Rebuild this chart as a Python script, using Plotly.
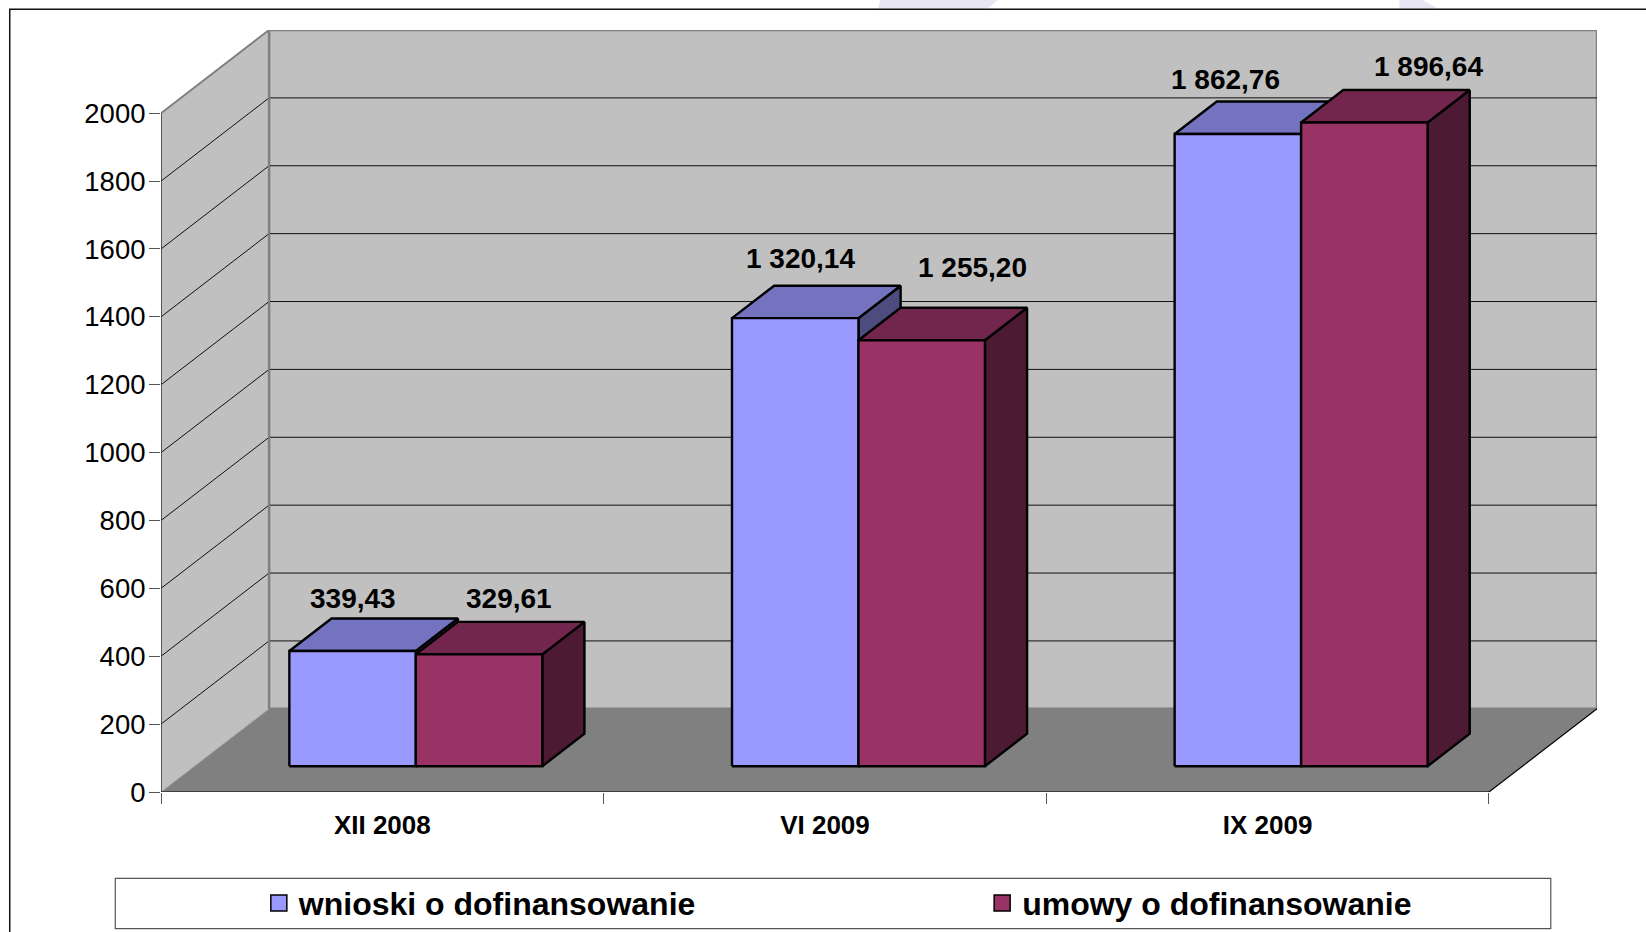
import plotly.graph_objects as go

categories = ["XII 2008", "VI 2009", "IX 2009"]
series_names = ["wnioski o dofinansowanie", "umowy o dofinansowanie"]
wnioski = [339.43, 1320.14, 1862.76]
umowy = [329.61, 1255.20, 1896.64]
y_ticks = [0, 200, 400, 600, 800, 1000, 1200, 1400, 1600, 1800, 2000]

W, H = 1646, 932
L, R, T, B = 161.2, 1596.6, 30.2, 792.3
CAT_PX = (1488.2 - L) / 3
Y_PX = 678 / 2000
DX = 108 / CAT_PX          # depth offset in x-axis units
DY = 83.1 / Y_PX           # depth offset in y-axis units
BAR_W = 1 / 3.5
Z0, Z1 = 0.31, 0.7
FONT = "Liberation Sans, Arial, sans-serif"
FACE = [("#9999FF", "#7373BF", "#4C4C7F"), ("#993366", "#73264D", "#4D1A33")]
# (xshift, yshift) of each value label from its bar's top-front centre, per series
LABEL_SHIFT = [[(0, 53), (5, 60), (-12, 54)], [(30, 56), (51, 73), (64, 56)]]


def P(x, y, z):
    return x + z * DX, y + z * DY


def poly(points, fill=None, color=None, width=1.0, **kw):
    xy = [P(*p) for p in points]
    return go.Scatter(
        x=[a for a, _ in xy], y=[b for _, b in xy], mode="lines",
        fill="toself" if fill else None, fillcolor=fill,
        line=dict(color=color or "rgba(0,0,0,0)", width=width),
        showlegend=False, hoverinfo="skip", **kw)


def pfx(v):
    return (v - L) / (R - L)


def pfy(v):
    return (B - v) / (B - T)


n = len(categories)
top = y_ticks[-1]
fig = go.Figure()

# walls and floor
fig.add_trace(poly([(0, 0, 0), (0, top, 0), (0, top, 1), (0, 0, 1)], "#C0C0C0"))
fig.add_trace(poly([(0, 0, 1), (n, 0, 1), (n, top, 1), (0, top, 1), (0, 0, 1)], "#C0C0C0", "#808080", 2.5))
fig.add_trace(poly([(0, 0, 0), (n, 0, 0), (n, 0, 1), (0, 0, 1)], "#808080"))

# gridlines
for t in y_ticks[1:-1]:
    fig.add_trace(poly([(0, t, 0), (0, t, 1), (n, t, 1)], None, "#111111", 1))

# wall edges
fig.add_trace(poly([(0, top, 0), (0, top, 1), (0, 0, 1)], None, "#808080", 2))
fig.add_trace(poly([(0, 0, 0), (0, 0, 1)], None, "#A0A0A0", 1))
fig.add_trace(poly([(0, 0, 0), (0, top, 0)], None, "#333333", 1.5))
fig.add_trace(poly([(0, 0, 0), (n, 0, 0), (n, 0, 1)], None, "#000000", 1.2))

# bars
annotations = []
for i in range(n):
    for s, vals in enumerate([wnioski, umowy]):
        v = vals[i]
        x0 = i + 0.75 * BAR_W + s * BAR_W
        x1 = x0 + BAR_W
        front, topc, side = FACE[s]
        fig.add_trace(poly([(x1, 0, Z0), (x1, 0, Z1), (x1, v, Z1), (x1, v, Z0), (x1, 0, Z0)], side, "#000000", 2.4))
        fig.add_trace(poly([(x0, v, Z0), (x0, v, Z1), (x1, v, Z1), (x1, v, Z0), (x0, v, Z0)], topc, "#000000", 2.4))
        fig.add_trace(poly([(x0, 0, Z0), (x1, 0, Z0), (x1, v, Z0), (x0, v, Z0), (x0, 0, Z0)], front, "#000000", 2.4))
        ax, ay = P((x0 + x1) / 2, v, Z0)
        whole = int(v)
        txt = f"{whole:,}".replace(",", " ") + f",{round((v - whole) * 100):02d}"
        annotations.append(dict(x=ax, y=ay, xref="x", yref="y", text=txt, showarrow=False,
                                xanchor="center", yanchor="middle",
                                xshift=LABEL_SHIFT[s][i][0], yshift=LABEL_SHIFT[s][i][1],
                                font=dict(family=FONT, size=28, color="#000000", weight="bold")))

# legend entries, one legend each so they can sit apart inside the shared box
for s, name in enumerate(series_names):
    fig.add_trace(go.Scatter(x=[None], y=[None], mode="markers", name=name,
                             legend="legend" if s == 0 else "legend2",
                             marker=dict(symbol="square", size=18, color=FACE[s][0],
                                         line=dict(color="#000000", width=1.5))))

shapes = [
    # faint background watermark slivers above the frame
    dict(type="path", xref="paper", yref="paper", layer="below",
         path=f"M{pfx(878)},{pfy(9)} L{pfx(880)},{pfy(0)} L{pfx(998)},{pfy(0)} L{pfx(987)},{pfy(9)} Z",
         line=dict(width=0), fillcolor="#E8E6F4"),
    dict(type="path", xref="paper", yref="paper", layer="below",
         path=f"M{pfx(1399)},{pfy(9)} L{pfx(1399)},{pfy(0)} L{pfx(1422)},{pfy(0)} L{pfx(1438)},{pfy(9)} Z",
         line=dict(width=0), fillcolor="#E8E6F4"),
    # outer frame
    dict(type="path", xref="paper", yref="paper", layer="below",
         path=f"M{pfx(10)},{pfy(940)} L{pfx(10)},{pfy(9.5)} L{pfx(1660)},{pfy(9.5)}",
         line=dict(color="#111111", width=1.5)),
    # legend box
    dict(type="rect", xref="paper", yref="paper", layer="below",
         x0=pfx(115.5), x1=pfx(1550.4), y0=pfy(878.6), y1=pfy(929),
         line=dict(color="#555555", width=1.2), fillcolor="#FFFFFF"),
]


def legend_at(px):
    return dict(x=pfx(px), xanchor="left", y=pfy(903.5), yanchor="middle",
                bgcolor="rgba(0,0,0,0)", itemclick=False, itemdoubleclick=False,
                font=dict(family=FONT, size=32, color="#000000", weight="bold"))


fig.update_layout(
    width=W, height=H, autosize=False,
    paper_bgcolor="#FFFFFF", plot_bgcolor="rgba(0,0,0,0)",
    margin=dict(l=L, r=W - R, t=T, b=H - B, pad=0, autoexpand=False),
    font=dict(family=FONT, color="#000000"),
    xaxis=dict(range=[0, n + DX], showgrid=False, zeroline=False, showline=False,
               tickmode="array", tickvals=[i + 0.5 for i in range(n)], ticktext=categories,
               ticks="", ticklabelstandoff=15,
               tickfont=dict(family=FONT, size=26, color="#000000", weight="bold"),
               minor=dict(tickmode="array", tickvals=list(range(n + 1)), ticks="outside",
                          ticklen=11, tickcolor="#555555", tickwidth=1, showgrid=False)),
    yaxis=dict(range=[0, top + DY], showgrid=False, zeroline=False, showline=False,
               tickmode="array", tickvals=y_ticks, ticktext=[str(t) for t in y_ticks],
               ticks="outside", ticklen=11, tickcolor="#555555", tickwidth=1.2,
               ticklabelstandoff=-2,
               tickfont=dict(family=FONT, size=27.5, color="#000000")),
    legend=legend_at(259),
    legend2=legend_at(982),
    annotations=annotations,
    shapes=shapes,
    showlegend=True,
)

fig.write_html("out.html", config=dict(displayModeBar=False),
               post_script="document.body.style.margin='0';document.body.style.overflow='hidden';")
